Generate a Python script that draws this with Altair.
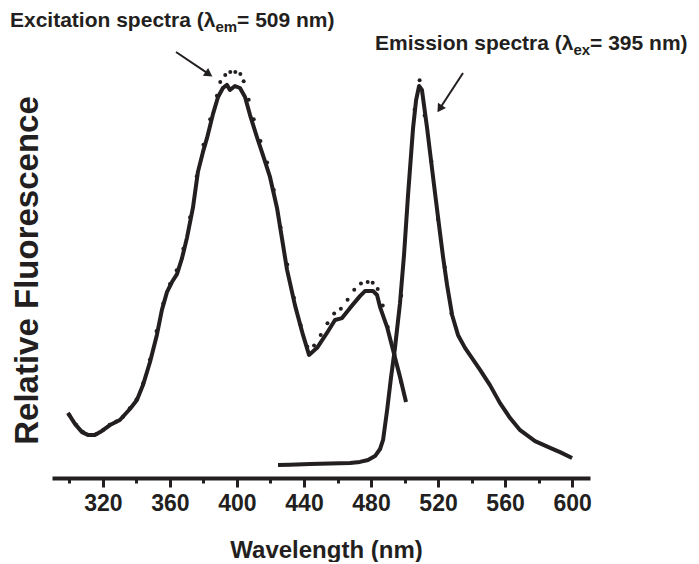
import altair as alt
import pandas as pd

# ---------------- data ----------------
exc_nm = [299.1, 303.3, 307.5, 311.0, 315.2, 319.4, 324.2, 330.1, 336.1, 340.3, 343.9, 348.1,
          352.2, 355.2, 358.2, 361.2, 364.2, 367.2, 370.1, 373.7, 376.7, 379.7, 382.1, 385.7,
          388.7, 391.6, 394.0, 395.8, 398.8, 401.8, 404.8, 407.8, 411.9, 415.5, 419.7, 423.9,
          427.5, 429.9, 434.6, 439.4, 443.0, 447.8, 453.7, 458.5, 462.7, 467.5, 473.4, 476.4,
          481.2, 483.6, 485.4, 489.6, 493.1, 497.3, 500.9]
exc_val = [16.6, 13.8, 11.7, 11.0, 11.0, 12.0, 13.5, 14.8, 17.6, 19.9, 23.7, 29.6,
           36.5, 42.9, 47.4, 50.0, 52.0, 56.1, 61.2, 68.9, 78.1, 83.2, 86.7, 92.9,
           97.2, 99.5, 100.3, 99.0, 100.0, 99.5, 97.2, 92.6, 87.0, 82.4, 76.8, 68.9,
           59.4, 53.1, 44.1, 36.5, 31.4, 33.2, 37.0, 40.3, 40.8, 43.4, 46.4, 47.7,
           47.7, 46.7, 43.6, 38.5, 32.7, 25.8, 19.4]

exc_dot_nm = [300, 304, 308, 312, 316, 320, 324, 328, 332, 336, 340, 344, 348, 352, 356, 360,
              364, 368, 372, 376, 380, 384, 388, 390, 393, 396, 399, 402, 404, 407, 410, 414,
              418, 422, 426, 430, 434, 438, 442, 446, 450, 454, 458, 462, 466, 470, 474, 478,
              481, 484, 487, 490, 494, 498]
exc_dot_val = [16.0, 13.6, 11.8, 11.0, 11.2, 12.2, 13.6, 14.4, 15.6, 17.8, 20.0, 24.2, 30.2, 37.5,
               44.5, 49.5, 53.0, 58.5, 66.5, 77.0, 85.0, 91.5, 97.5, 101.0, 102.8, 103.6, 103.6,
               103.1, 101.2, 96.5, 91.5, 86.0, 80.5, 73.5, 64.0, 54.5, 46.0, 39.0, 33.5, 33.8,
               36.5, 39.5, 42.0, 43.2, 45.5, 48.0, 49.6, 50.0, 49.8, 48.2, 44.0, 38.5, 31.5, 24.5]

emi_nm = [424.5, 431.6, 443.6, 455.5, 467.5, 473.4, 478.2, 482.4, 485.4, 487.2, 489.6, 491.9,
          494.3, 497.3, 499.7, 502.1, 505.1, 506.9, 508.7, 510.4, 513.4, 515.8, 518.2, 520.6,
          523.0, 525.4, 528.4, 531.9, 536.1, 540.3, 545.1, 551.0, 557.0, 563.0, 569.0, 577.9,
          586.9, 592.8, 600.0]
emi_val = [3.3, 3.4, 3.6, 3.7, 3.8, 4.1, 4.6, 5.6, 7.4, 9.7, 17.3, 25.5,
           33.2, 44.6, 56.9, 72.2, 89.3, 96.4, 100.0, 99.0, 89.5, 81.1, 72.7, 64.5,
           56.4, 49.2, 41.6, 36.5, 33.2, 30.6, 27.6, 23.7, 19.1, 15.3, 12.2, 9.4,
           7.7, 6.6, 5.1]

emi_dot_nm = [494, 498, 502, 506, 509, 512, 516, 520, 524, 528]
emi_dot_val = [33.0, 46.5, 72.0, 94.0, 101.5, 92.5, 80.8, 66.0, 53.8, 42.0]

major_ticks = [320, 360, 400, 440, 480, 520, 560, 600]
minor_ticks = [300, 340, 380, 420, 460, 500, 540, 580]

exc_label = ["Excitation spectra (λ", "em", "= 509 nm)"]
emi_label = ["Emission spectra (λ", "ex", "= 395 nm)"]

# ---------------- styling ----------------
INK = "#231f20"
FONT = "Liberation Sans"

lines_df = pd.concat([
    pd.DataFrame({"nm": exc_nm, "val": exc_val, "series": "excitation"}),
    pd.DataFrame({"nm": emi_nm, "val": emi_val, "series": "emission"}),
])
dots_df = pd.concat([
    pd.DataFrame({"nm": exc_dot_nm, "val": exc_dot_val, "series": "excitation"}),
    pd.DataFrame({"nm": emi_dot_nm, "val": emi_dot_val, "series": "emission"}),
])

x_scale = alt.Scale(domain=[289.6, 610.7], nice=False, zero=False)
y_scale = alt.Scale(domain=[0, 119.4], nice=False, zero=False)

x_major = alt.Axis(values=major_ticks, tickSize=9, tickWidth=3, tickColor=INK,
                   domainWidth=4, domainColor=INK, labelFont=FONT, labelFontSize=23,
                   labelFontWeight="bold", labelColor=INK, labelPadding=5,
                   title="Wavelength (nm)", titleFont=FONT, titleFontSize=24,
                   titleFontWeight="bold", titleColor=INK, titleX=274, titleY=79,
                   titleBaseline="alphabetic", grid=False, orient="bottom")
x_minor = alt.Axis(values=minor_ticks, tickSize=5, tickWidth=3, tickColor=INK,
                   domain=False, labels=False, title=None, grid=False, orient="bottom")
y_axis = alt.Axis(domain=False, ticks=False, labels=False, grid=False,
                  title="Relative Fluorescence", titleFont=FONT, titleFontSize=33,
                  titleFontWeight="bold", titleColor=INK, titleX=-15, titleY=260,
                  titleBaseline="alphabetic", titleAngle=270)

lines = alt.Chart(lines_df).mark_line(color=INK, strokeWidth=4, strokeJoin="round").encode(
    x=alt.X("nm:Q", scale=x_scale, axis=x_major),
    y=alt.Y("val:Q", scale=y_scale, axis=y_axis),
    detail="series:N",
    order="nm:Q",
)

dots = alt.Chart(dots_df).mark_circle(color=INK, size=16, opacity=1).encode(
    x=alt.X("nm:Q", scale=x_scale, axis=x_minor),
    y=alt.Y("val:Q", scale=y_scale),
)

one = pd.DataFrame({"a": [0]})


def txt(text, x, y, size):
    return alt.Chart(one).mark_text(text=text, font=FONT, fontSize=size, fontWeight="bold",
                                    color=INK, align="left", baseline="alphabetic").encode(
        x=alt.value(x), y=alt.value(y))


S, SS = 21, 15
ex0 = -42
ex1 = ex0 + 9.781 * S
ex2 = ex1 + 1.445 * SS
em0 = 323
em1 = em0 + 9.448 * S
em2 = em1 + 1.112 * SS

texts = [
    txt(exc_label[0], ex0, 17, S), txt(exc_label[1], ex1, 22, SS), txt(exc_label[2], ex2, 17, S),
    txt(emi_label[0], em0, 40, S), txt(emi_label[1], em1, 45, SS), txt(emi_label[2], em2, 40, S),
]


def arrow(x1, y1, x2, y2, hx, hy, ang):
    shaft = alt.Chart(one).mark_rule(color=INK, strokeWidth=2).encode(
        x=alt.value(x1), y=alt.value(y1), x2=alt.value(hx), y2=alt.value(hy))
    head = alt.Chart(one).mark_point(shape="triangle-up", filled=True, color=INK, opacity=1,
                                     size=90, angle=ang).encode(x=alt.value(hx), y=alt.value(hy))
    return shaft + head


arrows = [arrow(124, 42, 161, 67, 156.9, 64.2, 124), arrow(411, 63, 385, 103, 387.7, 98.8, 213)]

chart = alt.layer(lines, dots, *texts, *arrows).resolve_axis(x="independent").properties(
    width=538, height=468,
    autosize=alt.AutoSizeParams(type="none"),
    padding={"left": 44, "top": 2, "right": 100, "bottom": 84},
    background="white",
).configure_view(stroke=None)

chart.save("out.html", embed_options={"renderer": "svg", "actions": False})
